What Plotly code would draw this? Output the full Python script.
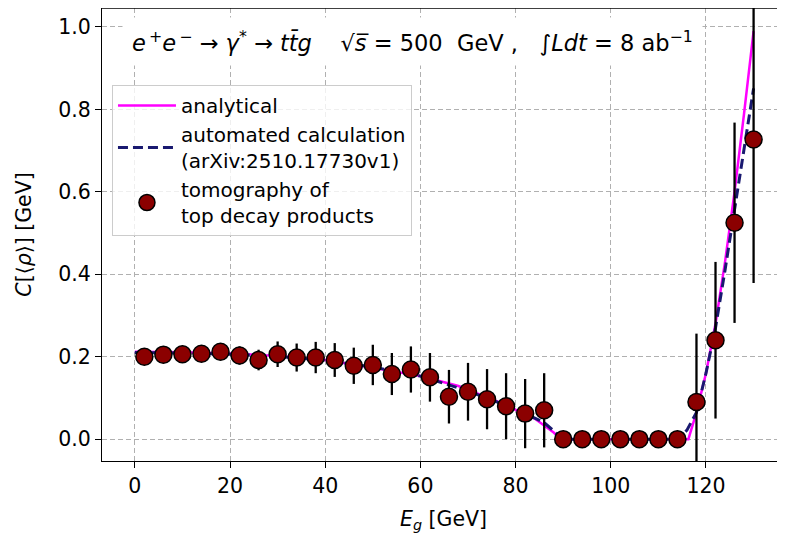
import plotly.graph_objects as go

# ---- data ----
E_points = [2, 6, 10, 14, 18, 22, 26, 30, 34, 38, 42, 46, 50, 54, 58, 62, 66, 70, 74, 78, 82, 86,
            90, 94, 98, 102, 106, 110, 114, 118, 122, 126, 130]
C_points = [0.200, 0.205, 0.206, 0.207, 0.212, 0.203, 0.192, 0.206, 0.198, 0.198, 0.192, 0.178, 0.180,
            0.158, 0.169, 0.150, 0.103, 0.115, 0.097, 0.080, 0.062, 0.070,
            0.0, 0.0, 0.0, 0.0, 0.0, 0.0, 0.0, 0.090, 0.240, 0.525, 0.727]
C_err = [0.008, 0.010, 0.011, 0.013, 0.016, 0.022, 0.025, 0.031, 0.034, 0.038, 0.041, 0.044, 0.049,
         0.051, 0.056, 0.059, 0.065, 0.070, 0.073, 0.080, 0.084, 0.090,
         0.0, 0.0, 0.0, 0.0, 0.0, 0.0, 0.0, 0.166, 0.190, 0.243, 0.348]

E_analytic = [0, 10, 20, 30, 40, 44, 50, 60, 68, 76, 80, 84, 88, 89.5, 116.3, 118, 120, 122, 124, 126, 128, 130]
C_analytic = [0.212, 0.211, 0.208, 0.202, 0.192, 0.185, 0.173, 0.153, 0.129, 0.092, 0.072, 0.050, 0.016,
              0.0, 0.0, 0.065, 0.16, 0.28, 0.43, 0.60, 0.79, 0.99]

E_auto = [0, 10, 20, 30, 40, 50, 60, 70, 80, 86, 90, 114, 116, 118, 120, 122, 124, 126, 128, 130]
C_auto = [0.21, 0.209, 0.206, 0.201, 0.191, 0.175, 0.153, 0.117, 0.073, 0.040, 0.0, 0.0, 0.022, 0.065,
          0.16, 0.27, 0.41, 0.56, 0.71, 0.851]

x_ticks = [0, 20, 40, 60, 80, 100, 120]
y_ticks = [0.0, 0.2, 0.4, 0.6, 0.8, 1.0]
y_tick_labels = ["0.0", "0.2", "0.4", "0.6", "0.8", "1.0"]

FONT = "DejaVu Sans"
FS = 20.5

fig = go.Figure()
fig.add_trace(go.Scatter(
    x=E_analytic, y=C_analytic, mode="lines", name="analytical",
    line=dict(color="#ff00ff", width=2.5)))
fig.add_trace(go.Scatter(
    x=E_auto, y=C_auto, mode="lines", name="automated calculation<br>(arXiv:2510.17730v1)",
    line=dict(color="#191970", width=3, dash="10px,5px")))
fig.add_trace(go.Scatter(
    x=E_points, y=C_points, mode="markers", name="tomography of<br>top decay products",
    marker=dict(color="#8b0000", size=17, line=dict(color="black", width=1.5)),
    error_y=dict(type="data", array=C_err, visible=True, color="black", thickness=2.3, width=0)))

title_text = ("<i>e</i><sup>\u2009+</sup><i>e</i><sup>\u2009\u2212</sup> \u2192 <i>\u03b3</i><sup>*</sup>"
              " \u2192 <i>t</i><i>t\u0304</i><i>g</i>\u00a0\u00a0\u00a0\u00a0"
              "\u221a<i>s\u0305</i> = 500\u00a0\u00a0GeV\u00a0,\u00a0\u00a0\u00a0"
              "\u222b<i>Ldt</i> = 8\u00a0ab<sup>\u22121</sup>")

fig.add_annotation(
    x=0.455, y=0.925, xref="paper", yref="paper", xanchor="center", yanchor="middle",
    text=title_text, showarrow=False, bgcolor="white", borderpad=9,
    font=dict(family=FONT, size=22.5, color="black"))

# top spine
fig.add_shape(type="line", xref="paper", yref="paper", x0=0, x1=1, y0=1, y1=1,
              line=dict(color="black", width=1.3))

fig.update_layout(
    width=777, height=526,
    margin=dict(l=94, r=0, t=0, b=73),
    paper_bgcolor="white", plot_bgcolor="white",
    font=dict(family=FONT, size=FS, color="black"),
    showlegend=True,
    legend=dict(x=0.0146, y=0.830, xanchor="left", yanchor="top",
                bgcolor="rgba(255,255,255,0.8)", bordercolor="#cccccc", borderwidth=1,
                font=dict(family=FONT, size=20, color="black"),
                tracegroupgap=0, itemwidth=58),
)
fig.update_xaxes(
    range=[-6.9, 136.6], tickvals=x_ticks, ticktext=[str(v) for v in x_ticks],
    showgrid=True, gridcolor="#b0b0b0", griddash="5px,3px", gridwidth=1,
    zeroline=False, showline=True, linecolor="black", linewidth=1.3, mirror=False,
    ticks="outside", ticklen=6, tickwidth=1.2, tickcolor="black",
    title=dict(text="<i>E<sub>g</sub></i> [GeV]", font=dict(family=FONT, size=FS), standoff=14),
    tickfont=dict(family=FONT, size=FS))
fig.update_yaxes(
    range=[-0.053, 1.046], tickvals=y_ticks, ticktext=y_tick_labels,
    showgrid=True, gridcolor="#b0b0b0", griddash="5px,3px", gridwidth=1,
    zeroline=False, showline=True, linecolor="black", linewidth=1.3, mirror=False,
    ticks="outside", ticklen=6, tickwidth=1.2, tickcolor="black",
    title=dict(text="<i>C</i>[\u27e8<i>\u03c1</i>\u27e9] [GeV]", font=dict(family=FONT, size=FS), standoff=20),
    tickfont=dict(family=FONT, size=FS))

fig.write_html("out.html")
